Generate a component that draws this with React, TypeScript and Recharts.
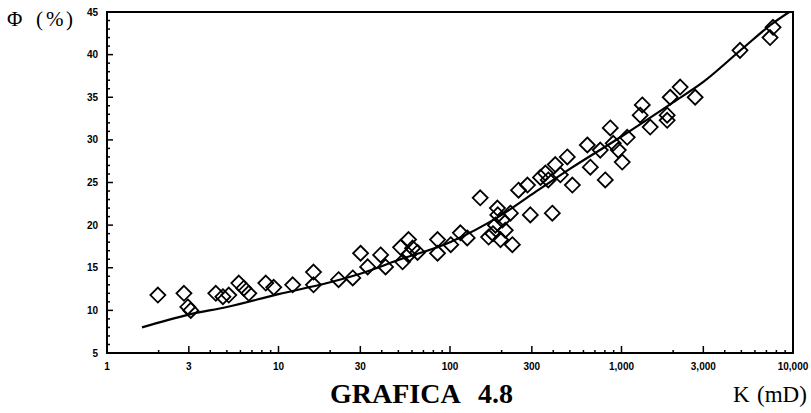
import React from "react";
import { ComposedChart, Scatter, Line, XAxis, YAxis, ReferenceArea } from "recharts";

// Scatter samples: permeability K (mD) and porosity Φ (%)
const pointK = [
  1.98, 2.81, 2.96, 3.08, 4.31, 4.74, 5.13, 5.87, 6.28, 6.71,
  8.43, 9.38, 12.1, 16.0, 16.0, 22.4, 27.1, 30.1, 33.1, 39.4,
  42.1, 51.5, 57.3, 57.3, 64.7, 52.9, 84.6, 84.6, 101, 115,
  126, 150, 168, 189, 202, 197, 225, 251, 283, 294,
  337, 395, 360, 411, 483, 517, 632, 658, 804, 860,
  895, 1010, 1080, 1285, 1470, 1846, 1846, 1923, 2198, 2688,
  4910, 7650, 7350, 210, 184, 231, 60.5, 440, 374, 752,
  958, 1322, 190, 178,
];
const pointPhi = [
  11.8, 12.0, 10.4, 10.0, 12.0, 11.6, 11.8, 13.2, 12.6, 12.0,
  13.2, 12.7, 13.0, 14.5, 13.0, 13.6, 13.8, 16.7, 15.1, 16.5,
  15.1, 17.4, 18.3, 16.5, 16.8, 15.7, 18.3, 16.7, 17.7, 19.1,
  18.5, 23.2, 18.6, 22.0, 20.6, 18.3, 21.4, 24.1, 24.7, 21.2,
  25.6, 21.4, 26.1, 27.1, 28.0, 24.7, 29.4, 26.8, 25.3, 31.4,
  29.6, 27.4, 30.3, 32.9, 31.5, 32.9, 32.3, 35.0, 36.2, 35.0,
  40.5, 43.2, 42.0, 19.4, 20.0, 17.7, 17.3, 25.9, 25.3, 28.8,
  28.8, 34.1, 21.2, 19.0,
];

// Fitted trend curve
const curveK = [1.6, 3, 5, 10, 20, 30, 50, 100, 200, 300, 500, 1000, 2000, 3000, 5000, 7650, 9500];
const curvePhi = [8.0, 9.5, 10.4, 11.9, 13.3, 14.3, 15.9, 18.0, 21.2, 23.6, 26.6, 30.4, 34.4, 36.8, 40.6, 43.7, 45.0];

// Axis ticks
const xMajorTicks = [1, 3, 10, 30, 100, 300, 1000, 3000, 10000];
const xMajorLabels = ["1", "3", "10", "30", "100", "300", "1,000", "3,000", "10,000"];
const xMinorTicks = [
  2, 4, 5, 6, 7, 8, 9, 20, 40, 50, 60, 70, 80, 90,
  200, 400, 500, 600, 700, 800, 900, 2000, 4000, 5000, 6000, 7000, 8000, 9000,
];
const yMajorTicks = [5, 10, 15, 20, 25, 30, 35, 40, 45];
const yMinorTicks = [
  6, 7, 8, 9, 11, 12, 13, 14, 16, 17, 18, 19, 21, 22, 23, 24, 26, 27, 28, 29,
  31, 32, 33, 34, 36, 37, 38, 39, 41, 42, 43, 44,
];

const points = pointK.map((k, i) => ({ k, phi: pointPhi[i] }));
const curve = curveK.map((k, i) => ({ k, phi: curvePhi[i] }));
const xTicks = [...xMajorTicks, ...xMinorTicks].sort((a, b) => a - b);
const yTicks = [...yMajorTicks, ...yMinorTicks].sort((a, b) => a - b);

const tickFont = "'Liberation Sans Narrow', 'Liberation Sans', Arial, sans-serif";
const serif = "'Liberation Serif', 'Times New Roman', serif";

const XTick = (props: any) => {
  const { x, y, payload } = props;
  const idx = xMajorTicks.indexOf(payload.value);
  const major = idx >= 0;
  return (
    <g>
      <line x1={x} x2={x} y1={y} y2={y - (major ? 7 : 3)} stroke="#000" strokeWidth={1.5} />
      {major && (
        <text x={x} y={y + 17} textAnchor="middle" fontSize={10} fontWeight="bold" fontFamily={tickFont} fill="#000">
          {xMajorLabels[idx]}
        </text>
      )}
    </g>
  );
};

const YTick = (props: any) => {
  const { x, y, payload } = props;
  const major = yMajorTicks.includes(payload.value);
  return (
    <g>
      <line x1={x} x2={x + (major ? 6 : 3)} y1={y} y2={y} stroke="#000" strokeWidth={1.5} />
      {major && (
        <text x={x - 9} y={y + 3.5} textAnchor="end" fontSize={10} fontWeight="bold" fontFamily={tickFont} fill="#000">
          {payload.value}
        </text>
      )}
    </g>
  );
};

const Diamond = (props: any) => {
  const { cx, cy } = props;
  if (cx == null || cy == null) return null;
  const r = 7.5;
  return (
    <path
      d={`M${cx},${cy - r} L${cx + r},${cy} L${cx},${cy + r} L${cx - r},${cy} Z`}
      fill="none"
      stroke="#000"
      strokeWidth={1.8}
    />
  );
};

const abs = (left: number, top: number, size: number, bold = false): React.CSSProperties => ({
  position: "absolute",
  left,
  top,
  fontFamily: serif,
  fontSize: size,
  fontWeight: bold ? "bold" : "normal",
  color: "#000",
  whiteSpace: "pre",
  lineHeight: 1,
});

export default function App() {
  return (
    <div style={{ position: "absolute", left: 0, top: 0, width: 811, height: 413, background: "#fff" }}>
      <ComposedChart width={811} height={413} margin={{ top: 12, right: 18, bottom: 0, left: 0 }}>
        <XAxis
          dataKey="k"
          type="number"
          scale="log"
          domain={[1, 10000]}
          ticks={xTicks}
          interval={0}
          allowDataOverflow
          height={60}
          tickSize={0}
          tickMargin={0}
          tickLine={false}
          axisLine={{ stroke: "#000", strokeWidth: 2 }}
          tick={<XTick />}
        />
        <YAxis
          dataKey="phi"
          type="number"
          domain={[5, 45]}
          ticks={yTicks}
          interval={0}
          allowDataOverflow
          width={107}
          tickSize={0}
          tickMargin={0}
          tickLine={false}
          axisLine={{ stroke: "#000", strokeWidth: 2 }}
          tick={<YTick />}
        />
        <ReferenceArea x1={1} x2={10000} y1={5} y2={45} fill="none" stroke="#000" strokeWidth={2} />
        <Scatter data={points} dataKey="phi" shape={<Diamond />} isAnimationActive={false} />
        <Line
          data={curve}
          dataKey="phi"
          type="monotone"
          stroke="#000"
          strokeWidth={2.2}
          dot={false}
          isAnimationActive={false}
        />
      </ComposedChart>
      <div style={abs(7, 9, 21)}>Φ</div>
      <div style={abs(36, 9, 21)}>(</div>
      <div style={abs(46, 9, 21)}>%</div>
      <div style={abs(66, 9, 21)}>)</div>
      <div style={abs(330, 380, 28, true)}>GRAFICA</div>
      <div style={abs(478, 380, 28, true)}>4.8</div>
      <div style={abs(733, 383, 23)}>K</div>
      <div style={abs(757, 383, 23)}>(mD)</div>
    </div>
  );
}
